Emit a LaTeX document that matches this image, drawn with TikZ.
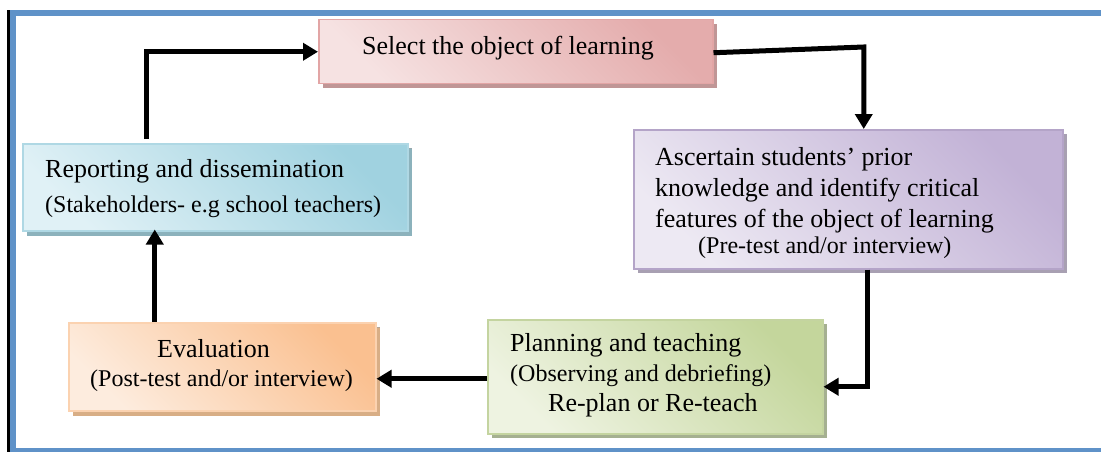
\documentclass[tikz,border=0pt]{standalone}
\usepackage{fontspec}
\setmainfont{Liberation Serif}
\usetikzlibrary{arrows.meta,shadows,calc}

\definecolor{frameblue}{RGB}{95,146,200}
\definecolor{selD}{RGB}{228,172,172}
\definecolor{selL}{RGB}{246,226,226}
\definecolor{selB}{RGB}{226,165,165}
\definecolor{selS}{RGB}{192,150,150}
\definecolor{ascD}{RGB}{194,178,214}
\definecolor{ascL}{RGB}{237,233,243}
\definecolor{ascB}{RGB}{180,164,200}
\definecolor{ascS}{RGB}{168,160,178}
\definecolor{repD}{RGB}{160,210,224}
\definecolor{repL}{RGB}{224,241,246}
\definecolor{repB}{RGB}{175,216,228}
\definecolor{repS}{RGB}{140,178,188}
\definecolor{evaD}{RGB}{250,192,144}
\definecolor{evaL}{RGB}{253,236,222}
\definecolor{evaB}{RGB}{251,210,176}
\definecolor{evaS}{RGB}{216,174,134}
\definecolor{plaD}{RGB}{196,214,156}
\definecolor{plaL}{RGB}{238,243,225}
\definecolor{plaB}{RGB}{196,212,160}
\definecolor{plaS}{RGB}{165,176,145}

\begin{document}
\begin{tikzpicture}[x=1pt,y=-1pt,
  cbox/.style n args={3}{rectangle, draw=#1, line width=1.5pt,
    top color=#2, bottom color=#3, shading angle=-45,
    general shadow={fill=#1!60!black!70, shadow xshift=4pt, shadow yshift=-4pt},
    anchor=north west, inner sep=0pt},
  big/.style={font=\fontsize{26}{30}\selectfont, inner sep=0pt, anchor=base west},
  small/.style={font=\fontsize{24}{28}\selectfont, inner sep=0pt, anchor=base west},
  arr/.style={line width=5pt, -{Triangle[length=15pt,width=17pt]}}]

% canvas and frame
\fill[white] (0,0) rectangle (1101,452);
\useasboundingbox (0,0) rectangle (1101,452);
\fill[black] (7,10) rectangle (9.5,452);
\fill[frameblue] (10,10) rectangle (1101,16.5);
\fill[frameblue] (10,10) rectangle (16,452);
\fill[frameblue] (10,448) rectangle (1101,452);

% boxes
\node[cbox={selB}{selD}{selL}, general shadow={fill=selS, shadow xshift=4pt, shadow yshift=-4pt},
      minimum width=394pt, minimum height=64pt] (sel) at (318,19) {};
\node[cbox={ascB}{ascD}{ascL}, general shadow={fill=ascS, shadow xshift=4pt, shadow yshift=-4pt},
      minimum width=429pt, minimum height=139pt] (asc) at (633,129) {};
\node[cbox={repB}{repD}{repL}, general shadow={fill=repS, shadow xshift=4pt, shadow yshift=-5pt},
      minimum width=385pt, minimum height=87pt] (rep) at (22,143) {};
\node[cbox={evaB}{evaD}{evaL}, general shadow={fill=evaS, shadow xshift=4pt, shadow yshift=-5pt},
      minimum width=307pt, minimum height=88pt] (eva) at (68,322) {};
\node[cbox={plaB}{plaD}{plaL}, general shadow={fill=plaS, shadow xshift=4pt, shadow yshift=-4pt},
      minimum width=335pt, minimum height=114pt] (pla) at (487,319) {};

% texts
\node[big] (selT) at (362,55) {Select the object of learning};

\node[big] (ascT1) at (655,165) {Ascertain students’ prior};
\node[big] (ascT2) at (655,196) {knowledge and identify critical};
\node[big] (ascT3) at (655,227) {features of the object of learning};
\node[small] (ascT4) at (698,253) {(Pre-test and/or interview)};

\node[big] (repT1) at (45,177) {Reporting and dissemination};
\node[small] (repT2) at (45,212) {(Stakeholders- e.g school teachers)};

\node[big] (evaT1) at (157,357) {Evaluation};
\node[small] (evaT2) at (90,386) {(Post-test and/or interview)};

\node[big] (plaT1) at (510,351) {Planning and teaching};
\node[small] (plaT2) at (510,381) {(Observing and debriefing)};
\node[big] (plaT3) at (548,411) {Re-plan or Re-teach};

% connectors
\draw[arr] ([xshift=124pt,yshift=4pt]rep.north west) |- (sel.west);
\draw[arr] ([yshift=-1pt]sel.east) -- ($(asc.north)+(15.5,-82)$) -- ([xshift=15.5pt]asc.north);
\draw[arr] ([xshift=19.5pt]asc.south) |- ([yshift=-10pt]pla.east);
\draw[arr] ([yshift=-2pt]pla.west) -- ([yshift=-12pt]eva.east);
\draw[arr] ([xshift=-67.5pt]eva.north) -- ([xshift=-60.5pt,yshift=2pt]rep.south);
\end{tikzpicture}
\end{document}
